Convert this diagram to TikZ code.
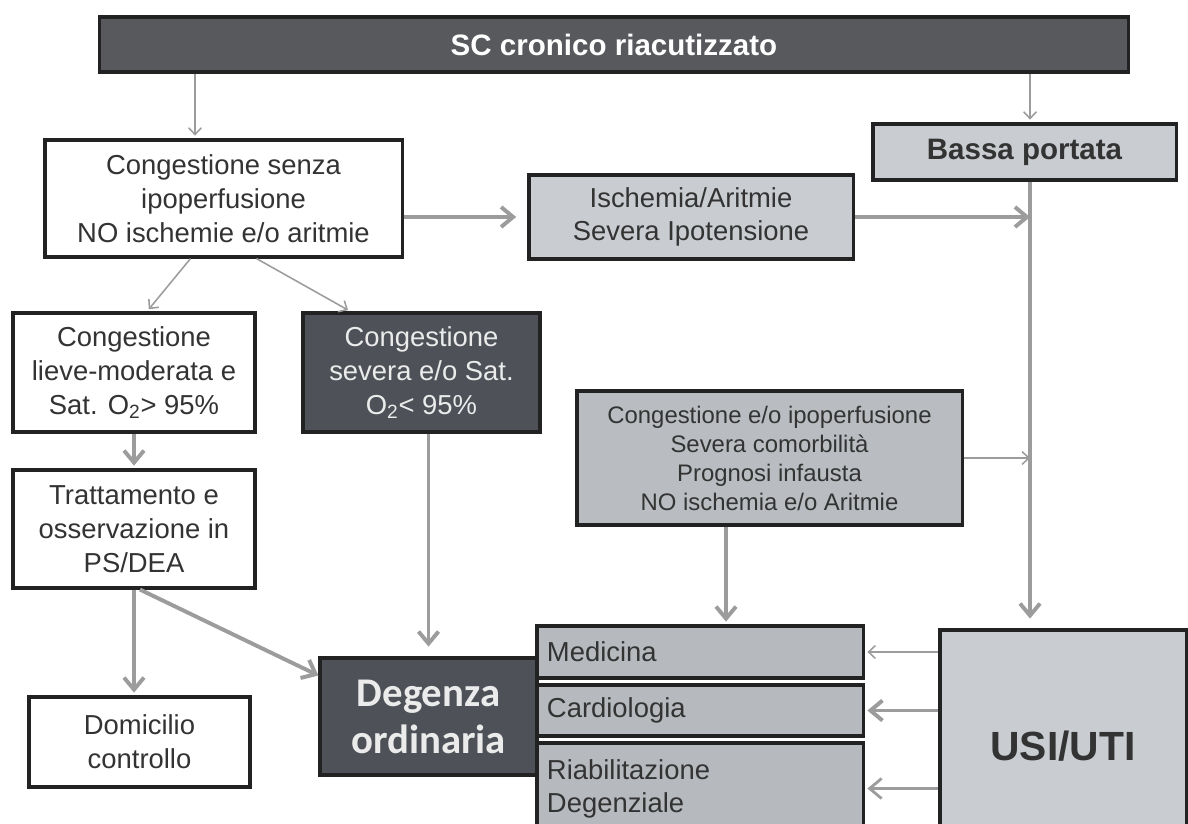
\documentclass[tikz,border=0pt]{standalone}
\usepackage{fontspec}
\setmainfont{Liberation Sans}
\newfontfamily\calibrifont{Carlito}
\usetikzlibrary{calc, arrows.meta}

\begin{document}
\begin{tikzpicture}[x=0.025cm, y=-0.025cm]
    % Define colours
    \definecolor{borderColour}{HTML}{222222}
    \definecolor{barFill}{HTML}{58595C}
    \definecolor{darkFill}{HTML}{4E5258}
    \definecolor{lightFill}{HTML}{C9CCD1}
    \definecolor{midFill}{HTML}{B6B9BE}
    \definecolor{arrowColour}{HTML}{9C9C9C}
    \definecolor{textColour}{HTML}{333333}

    % Define styles
    \tikzset{
      box/.style={draw=borderColour, line width=2.2pt, inner sep=0pt, align=center,
        text=textColour, font={\fontsize{19.5}{24}\selectfont}},
      plainbox/.style={box, fill=white},
      darkbox/.style={box, fill=darkFill, text=white!92!black},
      lightbox/.style={box, fill=lightFill},
      wardbox/.style={box, fill=midFill, align=left, inner xsep=0.25cm, text width=7.65cm,
        font={\fontsize{19.5}{23.5}\selectfont}},
      barbox/.style={box, fill=barFill, text=white, font={\bfseries\fontsize{21}{25}\selectfont}},
      thinarrow/.style={draw=arrowColour, line width=1.1pt,
        -{Straight Barb[length=0.17cm, width=0.32cm]}, shorten >=2pt},
      thickarrow/.style={draw=arrowColour, line width=2.8pt,
        -{Straight Barb[length=0.3cm, width=0.5cm]}, shorten >=2pt},
      midarrow/.style={thickarrow, line width=2pt}
    }

  % Fix the page and cut the boxes at the lower edge
  \useasboundingbox (0,0) rectangle (1188,823);
  \clip (0,0) rectangle (1188,823);

  % Draw the boxes
  \node[barbox, minimum width=25.7cm, minimum height=1.375cm] (sc) at (614,44.5) {SC cronico riacutizzato};
  \node[plainbox, minimum width=8.925cm, minimum height=2.925cm] (senza) at (223.5,198.5)
    {Congestione senza\\ipoperfusione\\NO ischemie e/o aritmie};
  \node[lightbox, minimum width=8.1cm, minimum height=2.1cm] (ischemia) at (691,217)
    {Ischemia/Aritmie\\Severa Ipotensione};
  \node[lightbox, minimum width=7.575cm, minimum height=1.4cm, font={\bfseries\fontsize{21}{25}\selectfont}] (bassa) at (1024.5,152)
    {Bassa portata};
  \node[plainbox, minimum width=6.05cm, minimum height=2.975cm] (lieve) at (134,372.5)
    {Congestione\\lieve-moderata e\\Sat. O\textsubscript{2}> 95\%};
  \node[darkbox, minimum width=5.925cm, minimum height=2.975cm] (severa) at (421.5,372.5)
    {Congestione\\severa e/o Sat.\\O\textsubscript{2}< 95\%};
  \node[lightbox, fill=lightFill!92!black, minimum width=9.625cm, minimum height=3.35cm, font={\fontsize{17}{20.6}\selectfont}] (comorb) at (769.5,458)
    {Congestione e/o ipoperfusione\\Severa comorbilità\\Prognosi infausta\\NO ischemia e/o Aritmie};
  \node[plainbox, minimum width=6.05cm, minimum height=2.95cm] (tratt) at (134,529)
    {Trattamento e\\osservazione in\\PS/DEA};
  \node[plainbox, minimum width=5.525cm, minimum height=2.25cm] (domic) at (139.5,742)
    {Domicilio\\controllo};
  \node[darkbox, minimum width=5.425cm, minimum height=2.925cm, font={\calibrifont\bfseries\fontsize{29}{33.5}\selectfont}] (degenza) at (428.5,716.5)
    {Degenza\\ordinaria};
  \node[wardbox, minimum height=1.3cm] (medicina) at (700,652) {Medicina};
  \node[wardbox, minimum height=1.275cm] (cardio) at (700,710.5) {Cardiologia};
  \node[wardbox, minimum height=2.275cm] (riab) at (700,788.5) {Riabilitazione\\Degenziale};
  \node[lightbox, minimum width=6.15cm, minimum height=5.8cm, font={\bfseries\fontsize{29}{33}\selectfont}] (usi) at (1063,746) {USI/UTI};

  % Define the drop points
  \coordinate (trunk) at (1030,0);
  \coordinate (leftDrop) at (195,0);
  \coordinate (medDrop) at ($(comorb.south)+(-43.5,0)$);

  % Draw the arrows from the top bar and into the right trunk
  \draw[thinarrow] (sc.south -| leftDrop) -- (senza.north -| leftDrop);
  \draw[thinarrow] (sc.south -| trunk) -- (bassa.north -| trunk);
  \draw[thickarrow, shorten >=8pt] (ischemia.west -| senza.east) -- (ischemia.west);
  \draw[thickarrow, shorten >=0pt] (ischemia.east) -- (ischemia.east -| trunk);
  \draw[thinarrow, shorten >=0pt] (comorb.east) -- (comorb.east -| trunk);
  \draw[thickarrow, shorten >=7pt] (bassa.south -| trunk) -- (usi.north -| trunk);

  % Draw the arrows of the left column
  \draw[thinarrow] ($(senza.south)+(-33,0)$) -- ($(lieve.north)+(13,0)$);
  \draw[thinarrow] ($(senza.south)+(33,0)$) -- ($(severa.north)+(-71,0)$);
  \draw[thickarrow] (lieve.south) -- (tratt.north);
  \draw[thickarrow] (tratt.south) -- (tratt.south |- domic.north);
  \draw[thickarrow, shorten >=0pt] ($(tratt.south)+(6,0)$) -- ($(degenza.west)+(0,-41)$);
  \draw[thickarrow, shorten >=7pt] (severa.south -| degenza.north) -- (degenza.north);

  % Draw the arrows into the wards
  \draw[thickarrow] (medDrop) -- (medDrop |- medicina.north);
  \draw[thinarrow] (usi.west |- medicina.east) -- (medicina.east);
  \draw[thickarrow] (usi.west |- cardio.east) -- (cardio.east);
  \draw[midarrow] (usi.west |- riab.east) -- (riab.east);

\end{tikzpicture}
\end{document}
